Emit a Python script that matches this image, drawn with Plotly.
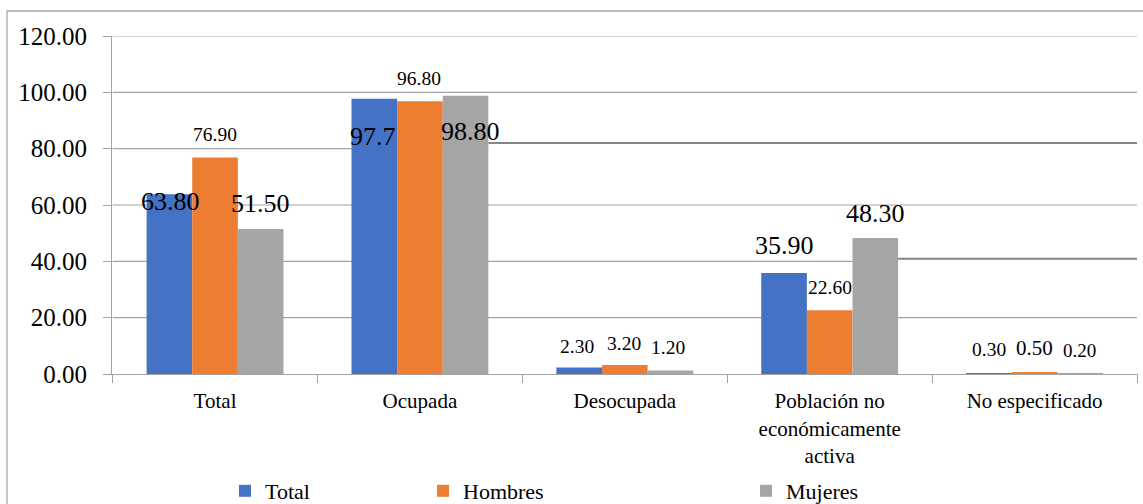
import plotly.graph_objects as go

# ---- data -------------------------------------------------------------
categories = [
    "Total",
    "Ocupada",
    "Desocupada",
    "Población no<br>económicamente<br>activa",
    "No especificado",
]
series_names = ["Total", "Hombres", "Mujeres"]
total = [63.8, 97.7, 2.3, 35.9, 0.3]
hombres = [76.9, 96.8, 3.2, 22.6, 0.5]
mujeres = [51.5, 98.8, 1.2, 48.3, 0.2]
y_ticks = [0, 20, 40, 60, 80, 100, 120]

# ---- styling ----------------------------------------------------------
FONT = "Liberation Serif"
colors = ["#4472C4", "#ED7D31", "#A5A5A5"]
GRID = "#a3a3a3"
BIG, SMALL = 26, 19.5

# per-label font size, vertical shift (px, up), horizontal shift (px), decimals
label_size = [
    [BIG, BIG, SMALL, BIG, SMALL],
    [SMALL, SMALL, SMALL, SMALL, 21],
    [BIG, BIG, SMALL, BIG, 19],
]
label_dy = [
    [-7, -38, 21, 27, 24],
    [23, 23, 21.5, 22.5, 24.5],
    [25.5, -36, 23, 24.5, 23],
]
label_dx = [
    [1, -1, -2, 0, 0],
    [0, -1, -1, 0, 0],
    [0, 5, -2, 0, -1],
]
label_decimals = [
    [2, 1, 2, 2, 2],
    [2, 2, 2, 2, 2],
    [2, 2, 2, 2, 2],
]

W, H = 1143, 504
M_L, M_R, M_T, M_B = 112, 5, 36, 130
BARGAP = 0.332
bw = (1 - BARGAP) / 3  # single bar width in category units

series = [total, hombres, mujeres]
legend_ids = ["legend", "legend2", "legend3"]

fig = go.Figure()
for k, (name, vals) in enumerate(zip(series_names, series)):
    fig.add_trace(
        go.Bar(
            x=categories,
            y=vals,
            name=name,
            marker=dict(color=colors[k], line=dict(width=0)),
            legend=legend_ids[k],
            hoverinfo="skip",
        )
    )

# value labels
annotations = []
for k, vals in enumerate(series):
    for ci, v in enumerate(vals):
        annotations.append(
            dict(
                x=ci + (k - 1) * bw,
                y=v,
                xref="x",
                yref="y",
                text=f"{v:.{label_decimals[k][ci]}f}",
                showarrow=False,
                xanchor="center",
                yanchor="middle",
                xshift=label_dx[k][ci],
                yshift=label_dy[k][ci],
                font=dict(family=FONT, size=label_size[k][ci], color="black"),
            )
        )

# horizontal gridlines; two of them have a raised, heavier right-hand run
x_lo, x_hi = -0.5, len(categories) - 0.5
raised = {80: (1 + 1.5 * bw, 2.0), 40: (3 + 1.5 * bw, 0.95)}
shapes = []
for t in y_ticks[1:]:
    if t in raised:
        x_split, lift = raised[t]
        shapes.append(dict(type="line", xref="x", yref="y", x0=x_lo, x1=x_split,
                           y0=t, y1=t, layer="below", line=dict(color=GRID, width=1.2)))
        shapes.append(dict(type="line", xref="x", yref="y", x0=x_split, x1=x_hi,
                           y0=t + lift, y1=t + lift, layer="below",
                           line=dict(color="#858585", width=2)))
    else:
        shapes.append(dict(type="line", xref="x", yref="y", x0=x_lo, x1=x_hi,
                           y0=t, y1=t, layer="below", line=dict(color=GRID, width=1.2)))

# chart frame
pw = W - M_L - M_R
ph = H - M_T - M_B
shapes.append(dict(type="rect", xref="paper", yref="paper",
                   x0=(7 - M_L) / pw, x1=1.2,
                   y0=-1.0, y1=(H - M_B - 11) / ph,
                   line=dict(color="#a8a8a8", width=1.3), fillcolor="rgba(0,0,0,0)",
                   layer="above"))


def legend_at(px_left):
    return dict(
        x=(px_left - M_L) / pw,
        y=(H - M_B - 491) / ph,
        xanchor="left",
        yanchor="middle",
        orientation="h",
        bgcolor="rgba(0,0,0,0)",
        borderwidth=0,
        font=dict(family=FONT, size=22, color="black"),
    )


fig.update_layout(
    width=W,
    height=H,
    margin=dict(l=M_L, r=M_R, t=M_T, b=M_B, autoexpand=False),
    paper_bgcolor="white",
    plot_bgcolor="white",
    barmode="group",
    bargap=BARGAP,
    bargroupgap=0,
    font=dict(family=FONT, color="black"),
    showlegend=True,
    legend=legend_at(225),
    legend2=legend_at(423),
    legend3=legend_at(746),
    annotations=annotations,
    shapes=shapes,
    xaxis=dict(
        type="category",
        showgrid=False,
        showline=True,
        linecolor=GRID,
        linewidth=1.2,
        ticks="outside",
        tickson="boundaries",
        ticklen=8,
        tickcolor=GRID,
        ticklabelstandoff=8,
        tickfont=dict(family=FONT, size=21, color="black"),
        zeroline=False,
    ),
    yaxis=dict(
        range=[0, 120],
        tickvals=y_ticks,
        tickformat=".2f",
        showgrid=False,
        showline=True,
        linecolor=GRID,
        linewidth=1.2,
        ticks="outside",
        ticklen=8,
        tickcolor=GRID,
        ticklabelstandoff=11,
        tickfont=dict(family=FONT, size=25, color="black"),
        zeroline=False,
    ),
)

fig.write_html("out.html")
